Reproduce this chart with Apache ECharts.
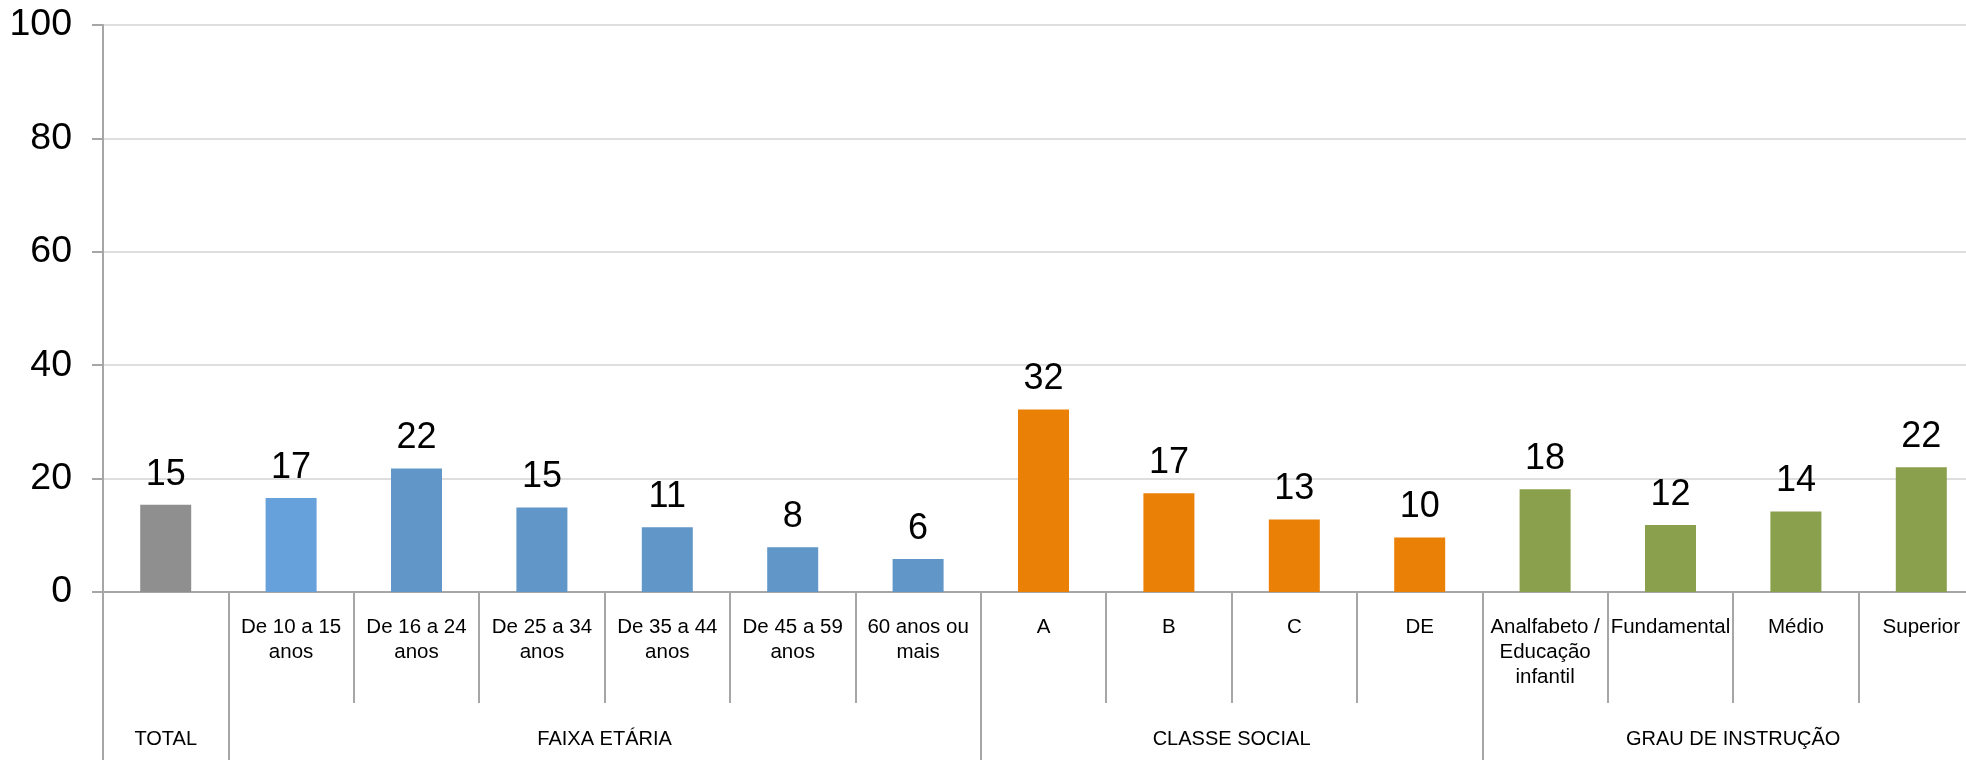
<!DOCTYPE html>
<html>
<head>
<meta charset="utf-8">
<script src="https://cdn.jsdelivr.net/npm/echarts@6/dist/echarts.min.js"></script>
<style>
  html, body { margin: 0; padding: 0; background: #ffffff; overflow: hidden; width: 1966px; height: 760px; }
  #chart { width: 1984px; height: 760px; }
</style>
</head>
<body>
<div id="chart"></div>
<script>
// ---- data ----
const categories = [
  '',
  'De 10 a 15\nanos',
  'De 16 a 24\nanos',
  'De 25 a 34\nanos',
  'De 35 a 44\nanos',
  'De 45 a 59\nanos',
  '60 anos ou\nmais',
  'A',
  'B',
  'C',
  'DE',
  'Analfabeto /\nEducação\ninfantil',
  'Fundamental',
  'Médio',
  'Superior'
];
const values = [15.4, 16.6, 21.8, 14.9, 11.4, 7.9, 5.8, 32.2, 17.4, 12.8, 9.6, 18.1, 11.8, 14.2, 22.0];
const groups = ['TOTAL', 'FAIXA ETÁRIA', 'CLASSE SOCIAL', 'GRAU DE INSTRUÇÃO'];
const groupSizes = [1, 6, 4, 4];
const yTicks = [0, 20, 40, 60, 80, 100];

// ---- styles ----
const barColors = [
  '#8f8f8f',
  '#66a1dc', '#6196c8', '#6196c8', '#6196c8', '#6196c8', '#6196c8',
  '#eb8006', '#eb8006', '#eb8006', '#eb8006',
  '#8aa04c', '#8aa04c', '#8aa04c', '#8aa04c'
];
const FONT = "'Liberation Sans', Arial, sans-serif";
const AXIS_GRAY = '#a6a6a6';

// group boundaries and centres derived from group sizes
const boundaries = [0];
groupSizes.forEach(s => boundaries.push(boundaries[boundaries.length - 1] + s));
const centers = groups.map((g, i) => (boundaries[i] + boundaries[i + 1]) / 2);

const chart = echarts.init(document.getElementById('chart'), null, { renderer: 'canvas' });
chart.setOption({
  animation: false,
  backgroundColor: '#ffffff',
  grid: { left: 103, right: 0, top: 25, bottom: 168, containLabel: false, outerBoundsMode: 'none' },
  xAxis: [
    {
      type: 'category',
      data: categories,
      position: 'bottom',
      axisLine: { show: true, lineStyle: { color: AXIS_GRAY, width: 2 } },
      axisTick: { show: true, interval: 0, length: 111, lineStyle: { color: AXIS_GRAY, width: 2 } },
      axisLabel: {
        interval: 0,
        margin: 23,
        fontFamily: FONT,
        fontSize: 20.5,
        lineHeight: 25,
        color: '#000000',
        align: 'center'
      },
      splitLine: { show: false }
    },
    {
      type: 'value',
      position: 'bottom',
      min: boundaries[0],
      max: boundaries[boundaries.length - 1],
      axisLine: { show: false },
      splitLine: { show: false },
      axisTick: {
        show: true,
        customValues: boundaries,
        length: 170,
        lineStyle: { color: AXIS_GRAY, width: 2 }
      },
      axisLabel: {
        show: true,
        customValues: centers,
        margin: 135,
        fontFamily: FONT,
        fontSize: 20,
        lineHeight: 25,
        color: '#000000',
        formatter: function (v) {
          for (let i = 0; i < centers.length; i++) {
            if (Math.abs(centers[i] - v) < 1e-6) return groups[i];
          }
          return '';
        }
      }
    }
  ],
  yAxis: {
    type: 'value',
    min: yTicks[0],
    max: yTicks[yTicks.length - 1],
    interval: yTicks[1] - yTicks[0],
    axisLine: { show: true, lineStyle: { color: AXIS_GRAY, width: 2 } },
    axisTick: { show: true, length: 11, lineStyle: { color: AXIS_GRAY, width: 2 } },
    axisLabel: {
      margin: 31,
      fontFamily: FONT,
      fontSize: 37.5,
      color: '#000000'
    },
    splitLine: { show: true, lineStyle: { color: '#dedede', width: 2 } }
  },
  series: [
    {
      type: 'bar',
      xAxisIndex: 0,
      yAxisIndex: 0,
      data: values,
      barWidth: 51,
      itemStyle: {
        color: function (p) { return barColors[p.dataIndex]; }
      },
      label: {
        show: true,
        position: 'top',
        distance: 12,
        fontFamily: FONT,
        fontSize: 36,
        color: '#000000',
        formatter: function (p) { return String(Math.round(p.value)); }
      }
    }
  ]
});
</script>
</body>
</html>
